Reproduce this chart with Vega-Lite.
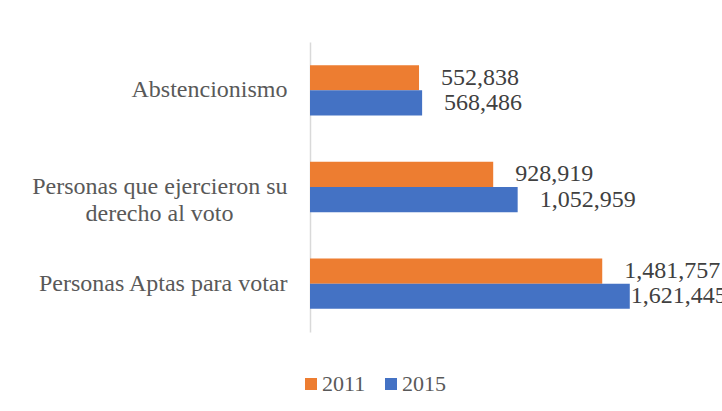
{
  "$schema": "https://vega.github.io/schema/vega-lite/v6.json",
  "width": 355,
  "height": 290,
  "autosize": {"type": "none"},
  "padding": {"left": 310, "top": 42, "right": 57, "bottom": 79},
  "background": "white",
  "config": {"view": {"stroke": null}, "font": "Liberation Serif"},
  "data": {
    "values": [
      {"cat": "Abstencionismo", "year": "2011", "value": 552838},
      {"cat": "Abstencionismo", "year": "2015", "value": 568486},
      {"cat": "Personas que ejercieron su derecho al voto", "year": "2011", "value": 928919},
      {"cat": "Personas que ejercieron su derecho al voto", "year": "2015", "value": 1052959},
      {"cat": "Personas Aptas para votar", "year": "2011", "value": 1481757},
      {"cat": "Personas Aptas para votar", "year": "2015", "value": 1621445}
    ]
  },
  "encoding": {
    "y": {
      "field": "cat",
      "type": "nominal",
      "sort": ["Abstencionismo", "Personas que ejercieron su derecho al voto", "Personas Aptas para votar"],
      "scale": {"paddingInner": 0.48, "paddingOuter": 0.24},
      "axis": {
        "title": null,
        "domainColor": "#d9d9d9",
        "domainWidth": 1.5,
        "ticks": false,
        "labelFont": "Liberation Serif",
        "labelFontSize": 24,
        "labelColor": "#595959",
        "labelPadding": 23,
        "labelLimit": 320,
        "labelLineHeight": 27,
        "labelExpr": "datum.value == 'Personas que ejercieron su derecho al voto' ? ['Personas que ejercieron su', 'derecho al voto\u00a0\u00a0\u00a0\u00a0\u00a0\u00a0\u00a0\u00a0\u00a0\u200b'] : datum.value"
      }
    },
    "yOffset": {"field": "year", "type": "nominal", "sort": ["2011", "2015"]},
    "x": {"field": "value", "type": "quantitative", "scale": {"domain": [0, 1800000]}, "axis": null}
  },
  "layer": [
    {
      "mark": {"type": "bar"},
      "encoding": {
        "color": {
          "field": "year",
          "type": "nominal",
          "scale": {"domain": ["2011", "2015"], "range": ["#ED7D31", "#4472C4"]},
          "legend": {
            "title": null,
            "orient": "none",
            "direction": "horizontal",
            "legendX": -10,
            "legendY": 331,
            "symbolType": "square",
            "symbolSize": 144,
            "symbolStrokeWidth": 0,
            "labelFont": "Liberation Serif",
            "labelFontSize": 22,
            "labelColor": "#595959",
            "labelOffset": 0,
            "columnPadding": 14
          }
        }
      }
    },
    {
      "transform": [{"filter": "datum.value < 1600000"}],
      "mark": {"type": "text", "align": "left", "baseline": "middle", "dx": 22, "fontSize": 24, "color": "#404040", "font": "Liberation Serif"},
      "encoding": {"text": {"field": "value", "type": "quantitative", "format": ",d"}}
    },
    {
      "transform": [{"filter": "datum.value >= 1600000"}],
      "mark": {"type": "text", "align": "left", "baseline": "middle", "dx": 1, "fontSize": 24, "color": "#404040", "font": "Liberation Serif"},
      "encoding": {"text": {"field": "value", "type": "quantitative", "format": ",d"}}
    }
  ]
}
